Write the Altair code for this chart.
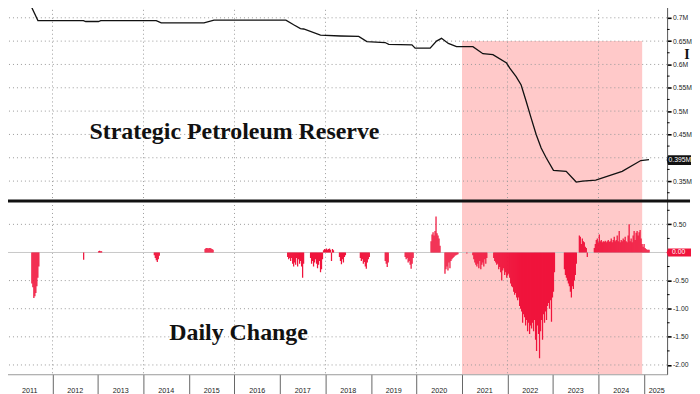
import altair as alt
import pandas as pd

# ---------------- data ----------------
# Strategic Petroleum Reserve level (decimal year, shown in "M")
line_years = [2010.89, 2011.53, 2011.68, 2012.68, 2012.73, 2013.01, 2013.06, 2014.28,
              2014.39, 2015.33, 2015.55, 2017.13, 2017.30, 2017.45, 2017.52, 2017.89,
              2018.33, 2018.73, 2018.91, 2019.31, 2019.39, 2019.90, 2019.97, 2020.30,
              2020.44, 2020.55, 2020.70, 2020.88, 2021.24, 2021.46, 2021.68, 2021.98,
              2022.05, 2022.19, 2022.30, 2022.41, 2022.52, 2022.63, 2022.74, 2022.85,
              2023.01, 2023.29, 2023.51, 2023.65, 2023.94, 2024.52, 2024.93, 2025.11]
line_values = [0.725, 0.725, 0.694, 0.694, 0.692, 0.692, 0.694, 0.694,
               0.689, 0.689, 0.695, 0.695, 0.685, 0.677, 0.676, 0.663,
               0.661, 0.660, 0.649, 0.647, 0.643, 0.642, 0.635, 0.635,
               0.650, 0.656, 0.645, 0.638, 0.638, 0.623, 0.621, 0.603,
               0.592, 0.574, 0.556, 0.521, 0.485, 0.450, 0.421, 0.400,
               0.373, 0.371, 0.348, 0.350, 0.352, 0.371, 0.394, 0.396]
last_value = [0.395]
last_label = ["0.395M"]

# Daily change: runs of consecutive observations (one every BAR_STEP years)
BAR_STEP = 0.02188
change_starts = [2011.547, 2012.685, 2013.013, 2014.238, 2015.354, 2017.169, 2017.672,
                 2017.957, 2018.307, 2018.766, 2019.313, 2019.751, 2020.320, 2020.626,
                 2021.107, 2021.239, 2021.698, 2022.048, 2023.251, 2023.579, 2023.908]
change_runs = [
    [-0.55, -0.62, -0.81, -0.78, -0.72, -0.60, -0.45, -0.25],
    [-0.13],
    [0.02, 0.03, 0.02, 0.02],
    [-0.05, -0.10, -0.14, -0.17, -0.12, -0.06],
    [0.06, 0.08, 0.08, 0.07, 0.08, 0.08, 0.07, 0.06, 0.05],
    [-0.08, -0.12, -0.10, -0.15, -0.10, -0.20, -0.25, -0.18, -0.22, -0.10, -0.25, -0.12,
     -0.20, -0.15, -0.25, -0.45, -0.20],
    [-0.10, -0.20, -0.15, -0.25, -0.18, -0.12, -0.20, -0.28, -0.22, -0.15, -0.35, -0.30, -0.12],
    [0.04, 0.06, 0.05, 0.07, 0.05, 0.06, 0.07, 0.05, -0.15, 0.06, 0.04],
    [-0.08, -0.15, -0.21, -0.12, -0.18, -0.08, -0.05],
    [-0.10, -0.15, -0.12, -0.20, -0.17, -0.25, -0.29, -0.18, -0.12, -0.08],
    [-0.15, -0.20, -0.26, -0.18],
    [-0.08, -0.12, -0.10, -0.18, -0.15, -0.22, -0.29, -0.20, -0.10],
    [0.20, 0.32, 0.36, 0.30, 0.38, 0.64, 0.34, 0.30, 0.25, 0.12],
    [-0.38, -0.30, -0.25, -0.32, -0.18, -0.28, -0.15, -0.12, -0.10, -0.08, -0.06, -0.05,
     -0.04, -0.03],
    [-0.02],
    [-0.05, -0.12, -0.18, -0.22, -0.25, -0.20, -0.28, -0.15, -0.30, -0.22, -0.18, -0.25,
     -0.12, -0.20, -0.10],
    [-0.10, -0.15, -0.18, -0.22, -0.20, -0.30, -0.26, -0.35, -0.50, -0.32, -0.28, -0.40,
     -0.35, -0.45, -0.41, -0.38],
    [-0.45, -0.55, -0.60, -0.62, -0.70, -0.75, -0.72, -0.80, -0.85, -0.80, -0.95, -1.00,
     -1.05, -1.25, -1.10, -1.15, -1.30, -1.20, -1.40, -1.25, -1.45, -1.30, -1.35, -1.25,
     -1.40, -1.20, -1.55, -1.75, -1.30, -1.45, -1.88, -1.40, -1.20, -1.55, -1.10, -1.25,
     -1.05, -1.20, -0.95, -0.90, -1.00, -0.85, -1.23, -0.80, -0.70, -0.35],
    [-0.30, -0.40, -0.45, -0.50, -0.55, -0.60, -0.70, -0.80, -0.60, -0.65, -0.50, -0.40, -0.20],
    [0.30, 0.28, 0.15, 0.25, 0.20, 0.18, 0.10, 0.08, -0.08],
    [0.08, 0.15, 0.22, 0.25, 0.18, 0.32, 0.20, 0.22, 0.18, 0.20, 0.19, 0.21, 0.18, 0.20,
     0.22, 0.19, 0.20, 0.25, 0.18, 0.22, 0.28, 0.20, 0.22, 0.30, 0.20, 0.38, 0.18, 0.22,
     0.20, 0.25, 0.22, 0.28, 0.20, 0.18, 0.30, 0.50, 0.20, 0.25, 0.18, 0.30, 0.38, 0.22,
     0.35, 0.38, 0.30, 0.36, 0.40, 0.25, 0.15, 0.10, 0.15, 0.08, 0.06, 0.05, 0.05, 0.05],
]
zero_value = [0.0]
zero_label = ["0.00"]

# shaded period
shade_start = [2021.0]
shade_end = [2024.96]
shade_top_level = [0.65]

# axes / grid
year_ticks = list(range(2011, 2026))
grid_years = [2012, 2014, 2016, 2018, 2020, 2022, 2024]
year_label_pos = [2011.5, 2012.5, 2013.5, 2014.5, 2015.5, 2016.5, 2017.5, 2018.5,
                  2019.5, 2020.5, 2021.5, 2022.5, 2023.5, 2024.5, 2025.28]
year_labels = [str(y) for y in range(2011, 2026)]
top_ticks = [0.35, 0.4, 0.45, 0.5, 0.55, 0.6, 0.65, 0.7]
top_minor = [0.325, 0.375, 0.425, 0.475, 0.525, 0.575, 0.625, 0.675, 0.725]
bot_ticks = [-2.0, -1.5, -1.0, -0.5, 0.0, 0.5]
bot_grid = [-2.0, -1.5, -1.0, -0.5, 0.5]
bot_minor = [-1.75, -1.25, -0.75, -0.25, 0.25, 0.75]

title_top = ["Strategic Petroleum Reserve"]
title_top_pos = [(2016.0, 0.441)]
title_bot = ["Daily Change"]
title_bot_pos = [(2016.09, -1.55)]
corner_text = ["I"]

# ---------------- styling ----------------
W, H_TOP, H_BOT = 668, 200, 174
X_DOMAIN = [2010.891, 2025.508]
TOP_DOMAIN = [0.3073, 0.7341]
BOT_DOMAIN = [-2.165, 0.915]
PINK = "#ffc9c9"
RED = "#f0143c"
GRID = "#9a9a9a"
LF = "Liberation Sans"
TF = "Liberation Serif"
BOX_TOP_PATH = "M-1.13,0L-1,-0.42L1,-0.42L1,0.42L-1,0.42Z"
BOX_BOT_PATH = "M-1.13,0L-1,-0.35L1,-0.35L1,0.35L-1,0.35Z"

xs = alt.Scale(domain=X_DOMAIN, nice=False, zero=False)
ys_top = alt.Scale(domain=TOP_DOMAIN, nice=False, zero=False)
ys_bot = alt.Scale(domain=BOT_DOMAIN, nice=False, zero=False)

common_axis = dict(orient="right", grid=False, domainColor="#555", tickColor="#000",
                   tickSize=4, tickWidth=1.6, labelFont=LF, labelFontSize=6.8,
                   labelColor="#222", labelPadding=1.5, labelOverlap=False, title=None)
top_axis = alt.Axis(values=top_ticks,
                    labelExpr="datum.value == 0.4 ? '' : format(datum.value, '.2~f') + 'M'",
                    **common_axis)
bot_axis = alt.Axis(values=bot_ticks,
                    labelExpr="datum.value == 0 ? '' : (datum.value < 0 ? '-' : '') + format(abs(datum.value), '.2f')",
                    **common_axis)
bot_x_axis = alt.Axis(values=year_ticks, labels=False, ticks=True, tickSize=20,
                      tickColor="#666", tickWidth=1, domainColor="#999", grid=False,
                      title=None, orient="bottom")


def XT(field):
    return alt.X(f"{field}:Q", scale=xs, axis=None)


def XB(field):
    return alt.X(f"{field}:Q", scale=xs, axis=bot_x_axis)


def YT(field):
    return alt.Y(f"{field}:Q", scale=ys_top, axis=top_axis)


def YB(field):
    return alt.Y(f"{field}:Q", scale=ys_bot, axis=bot_axis)


# ---------------- tables ----------------
line_df = pd.DataFrame({"year": line_years, "value": line_values})
rows = []
for start, run in zip(change_starts, change_runs):
    for i, v in enumerate(run):
        rows.append({"year": start + i * BAR_STEP, "value": v, "base": 0.0})
change_df = pd.DataFrame(rows)

shade_top_df = pd.DataFrame({"x0": shade_start, "x1": shade_end, "y0": shade_top_level,
                             "y1": [TOP_DOMAIN[0]]})
shade_bot_df = pd.DataFrame({"x0": shade_start, "x1": shade_end, "y0": [BOT_DOMAIN[1]],
                             "y1": [BOT_DOMAIN[0]]})
vgrid_df = pd.DataFrame({"year": grid_years})

# ---------------- top panel ----------------
shade_t = alt.Chart(shade_top_df).mark_rect(color=PINK, clip=True).encode(
    x=XT("x0"), x2="x1", y=YT("y0"), y2="y1")
hgrid_t = alt.Chart(pd.DataFrame({"v": top_ticks})).mark_rule(
    color=GRID, strokeDash=[1, 3], strokeWidth=1).encode(y=YT("v"))
vgrid_t = alt.Chart(vgrid_df).mark_rule(color=GRID, strokeDash=[1, 3], strokeWidth=1).encode(
    x=XT("year"))
minor_t = alt.Chart(pd.DataFrame({"v": top_minor})).mark_rule(color="#000", clip=False).encode(
    x=alt.value(W), x2=alt.value(W + 2.5), y=YT("v"))
line = alt.Chart(line_df).mark_line(color="#111", strokeWidth=1.3, clip=True).encode(
    x=XT("year"), y=YT("value"))
tt_df = pd.DataFrame({"x": [p[0] for p in title_top_pos], "y": [p[1] for p in title_top_pos],
                      "t": title_top})
title_t = alt.Chart(tt_df).mark_text(font=TF, fontWeight="bold", fontSize=24, color="#111",
                                     baseline="alphabetic").encode(
    x=XT("x"), y=YT("y"), text="t:N")
lv_df = pd.DataFrame({"v": last_value, "t": last_label})
box_t = alt.Chart(lv_df).mark_point(shape=BOX_TOP_PATH, size=529, filled=True, color="#111",
                                    opacity=1, strokeWidth=0).encode(
    x=alt.value(680.5), y=YT("v"))
box_t_text = alt.Chart(lv_df).mark_text(font=LF, fontSize=6.8, color="white", align="left",
                                        baseline="middle").encode(
    x=alt.value(669.5), y=YT("v"), text="t:N")
corner = alt.Chart(pd.DataFrame({"t": corner_text})).mark_text(
    font=TF, fontWeight="bold", fontSize=14, color="#111", baseline="alphabetic").encode(
    x=alt.value(688), y=alt.value(57), text="t:N")

top = alt.layer(shade_t, hgrid_t, vgrid_t, minor_t, line, title_t,
                box_t, box_t_text, corner).properties(width=W, height=H_TOP)

# ---------------- bottom panel ----------------
shade_b = alt.Chart(shade_bot_df).mark_rect(color=PINK, clip=True).encode(
    x=XB("x0"), x2="x1", y=YB("y0"), y2="y1")
hgrid_b = alt.Chart(pd.DataFrame({"v": bot_grid})).mark_rule(
    color=GRID, strokeDash=[1, 3], strokeWidth=1).encode(y=YB("v"))
zero_b = alt.Chart(pd.DataFrame({"v": zero_value})).mark_rule(
    color="#c8c8c8", strokeWidth=1).encode(y=YB("v"))
vgrid_b = alt.Chart(vgrid_df).mark_rule(color=GRID, strokeDash=[1, 3], strokeWidth=1).encode(
    x=XB("year"))
minor_b = alt.Chart(pd.DataFrame({"v": bot_minor})).mark_rule(color="#000", clip=False).encode(
    x=alt.value(W), x2=alt.value(W + 2.5), y=YB("v"))
bars = alt.Chart(change_df).mark_rule(color=RED, strokeWidth=1.25, clip=True).encode(
    x=XB("year"), y=YB("value"), y2="base")
tb_df = pd.DataFrame({"x": [p[0] for p in title_bot_pos], "y": [p[1] for p in title_bot_pos],
                      "t": title_bot})
title_b = alt.Chart(tb_df).mark_text(font=TF, fontWeight="bold", fontSize=24, color="#111",
                                     baseline="alphabetic").encode(
    x=XB("x"), y=YB("y"), text="t:N")
zv_df = pd.DataFrame({"v": zero_value, "t": zero_label})
box_b = alt.Chart(zv_df).mark_point(shape=BOX_BOT_PATH, size=529, filled=True, color=RED,
                                    opacity=1, strokeWidth=0).encode(
    x=alt.value(680.5), y=YB("v"))
box_b_text = alt.Chart(zv_df).mark_text(font=LF, fontSize=6.8, color="white", align="left",
                                        baseline="middle").encode(
    x=alt.value(673), y=YB("v"), text="t:N")
sep = alt.Chart(pd.DataFrame({"t": ["sep"]})).mark_rule(color="#111", strokeWidth=3.2).encode(
    x=alt.value(0), x2=alt.value(691), y=alt.value(0))
yl_df = pd.DataFrame({"x": year_label_pos, "t": year_labels})
year_text = alt.Chart(yl_df).mark_text(font=LF, fontSize=7.2, color="#222",
                                       baseline="alphabetic").encode(
    x=XB("x"), y=alt.value(H_BOT + 19), text="t:N")

bottom = alt.layer(shade_b, hgrid_b, vgrid_b, zero_b, minor_b, bars, title_b,
                   box_b, box_b_text, sep, year_text).properties(width=W, height=H_BOT)

chart = alt.vconcat(top, bottom, spacing=0, bounds="flush").properties(
    padding={"left": -8, "top": -8, "right": 0, "bottom": 0}
).configure_view(stroke=None)

chart.save("out.html", embed_options={"renderer": "svg", "actions": False})
